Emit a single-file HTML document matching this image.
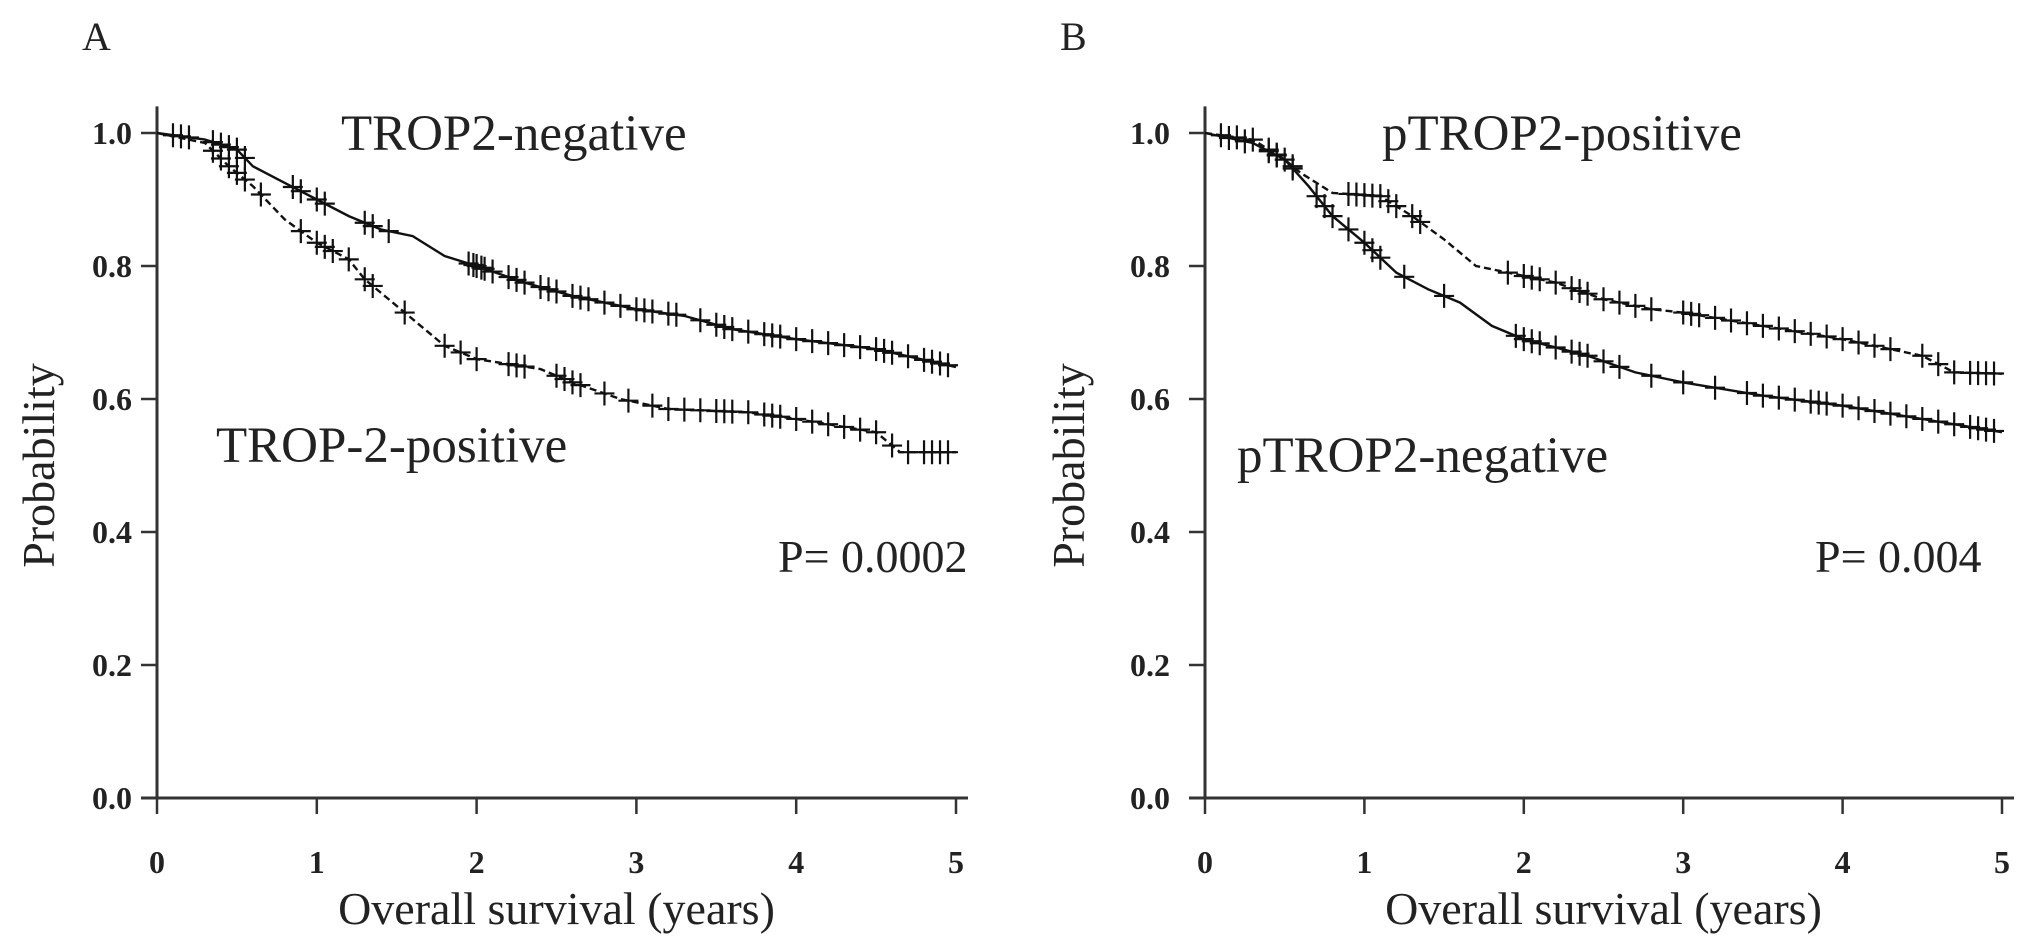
<!DOCTYPE html>
<html><head><meta charset="utf-8">
<style>
body{margin:0;background:#fff;}
svg{display:block;font-family:"Liberation Serif",serif;}
</style></head>
<body>
<svg id="chart" width="2031" height="947" viewBox="0 0 2031 947"></svg>
<script>
// Panel A data
const aNegT=[0,0.3,0.5,0.6,0.8,1,1.2,1.4,1.6,1.8,2,2.3,2.6,3,3.3,3.6,4,4.5,5];
const aNegS=[1,0.99,0.975,0.95,0.925,0.9,0.875,0.855,0.845,0.815,0.8,0.775,0.755,0.735,0.725,0.705,0.69,0.675,0.648];
const aPosT=[0,0.3,0.45,0.6,0.8,1,1.2,1.3,1.5,1.6,1.8,2,2.4,2.6,2.9,3.2,3.7,4,4.5,4.65,5];
const aPosS=[1,0.985,0.95,0.92,0.87,0.835,0.81,0.78,0.74,0.72,0.68,0.66,0.645,0.625,0.6,0.585,0.58,0.57,0.55,0.52,0.52];
const aNegCens=[0.1,0.15,0.2,0.35,0.4,0.45,0.5,0.55,0.85,0.9,1,1.05,1.3,1.35,1.45,1.95,1.98,2,2.03,2.05,2.1,2.2,2.25,2.3,2.4,2.45,2.5,2.6,2.65,2.7,2.8,2.9,3,3.05,3.1,3.2,3.25,3.4,3.5,3.55,3.6,3.7,3.8,3.85,3.9,4,4.1,4.2,4.3,4.4,4.5,4.55,4.6,4.7,4.8,4.85,4.9,4.95];
const aPosCens=[0.35,0.4,0.45,0.5,0.55,0.65,0.9,1,1.05,1.1,1.2,1.3,1.35,1.55,1.8,1.9,2,2.2,2.25,2.3,2.5,2.55,2.6,2.65,2.8,2.95,3.1,3.2,3.3,3.4,3.5,3.55,3.6,3.7,3.8,3.85,3.9,4,4.1,4.2,4.3,4.4,4.5,4.6,4.7,4.8,4.85,4.9,4.95];
// Panel B data
const bPosT=[0,0.3,0.5,0.6,0.8,1.1,1.3,1.5,1.7,1.9,2.2,2.5,2.8,3,3.5,4,4.5,4.7,5];
const bPosS=[1,0.99,0.96,0.94,0.91,0.905,0.875,0.84,0.8,0.79,0.775,0.75,0.735,0.73,0.71,0.69,0.665,0.64,0.638];
const bNegT=[0,0.3,0.5,0.65,0.8,1,1.2,1.4,1.6,1.8,2,2.4,2.7,3,3.5,4,4.5,5];
const bNegS=[1,0.985,0.96,0.92,0.875,0.835,0.79,0.765,0.745,0.71,0.69,0.665,0.64,0.625,0.605,0.59,0.57,0.55];
const bPosCens=[0.1,0.2,0.3,0.4,0.45,0.5,0.55,0.9,0.95,1,1.05,1.1,1.15,1.2,1.3,1.35,1.9,2,2.05,2.1,2.2,2.3,2.35,2.4,2.5,2.6,2.7,2.8,3,3.05,3.1,3.2,3.3,3.4,3.5,3.6,3.7,3.8,3.9,4,4.1,4.2,4.3,4.5,4.6,4.7,4.8,4.85,4.9,4.95];
const bNegCens=[0.15,0.25,0.4,0.45,0.55,0.7,0.75,0.8,0.9,1,1.05,1.1,1.25,1.5,1.95,2,2.05,2.1,2.2,2.3,2.35,2.4,2.5,2.6,2.8,3,3.2,3.4,3.5,3.6,3.7,3.8,3.85,3.9,4,4.1,4.2,4.3,4.4,4.5,4.6,4.7,4.8,4.85,4.9,4.95];
const yTicks=[0,0.2,0.4,0.6,0.8,1.0];
const xTicks=[0,1,2,3,4,5];

const NS='http://www.w3.org/2000/svg';
const svg=document.getElementById('chart');
function mk(tag,attrs,parent){const e=document.createElementNS(NS,tag);for(const k in attrs)e.setAttribute(k,attrs[k]);(parent||svg).appendChild(e);return e;}
function interp(T,S,t){for(let i=1;i<T.length;i++){if(t<=T[i]){const f=(t-T[i-1])/(T[i]-T[i-1]);return S[i-1]+f*(S[i]-S[i-1]);}}return S[S.length-1];}

function panel(p){
  const g=mk('g',{});
  
  
  const X=t=>p.x0+t*(p.x5-p.x0)/5;
  const Y=s=>p.y0-s*(p.y0-p.y1);
  const ax=mk('path',{d:`M${p.x0} ${Y(1.04)} L${p.x0} ${p.y0} M${p.x0-16} ${p.y0} L${X(5)+12} ${p.y0}`,stroke:'#333','stroke-width':3,fill:'none'},g);
  
  
  yTicks.forEach(v=>{
    mk('line',{x1:p.x0-16,x2:p.x0,y1:Y(v),y2:Y(v),stroke:'#333','stroke-width':2.5},g);
    const t=mk('text',{x:p.ylr,y:Y(v)+11,'text-anchor':'end','font-size':32,'font-weight':'bold',fill:'#222'},g);
    t.textContent=v.toFixed(1);
    
    
  });
  xTicks.forEach(v=>{
    mk('line',{x1:X(v),x2:X(v),y1:p.y0,y2:p.y0+16,stroke:'#333','stroke-width':2.5},g);
    const t=mk('text',{x:X(v),y:873,'text-anchor':'middle','font-size':32,'font-weight':'bold',fill:'#222'},g);
    t.textContent=v;
    
    
  });
  p.series.forEach(s=>{
    const d=s.T.map((t,i)=>(i?'L':'M')+X(t).toFixed(1)+' '+Y(s.S[i]).toFixed(1)).join(' ');
    const l=mk('path',{d:d,stroke:'#111','stroke-width':2.4,fill:'none','stroke-dasharray':s.dash?'7 4':'none'},g);
    
    
    s.C.forEach(c=>{
      const cx=X(c),cy=Y(interp(s.T,s.S,c));
      const m=mk('path',{d:`M${cx-10} ${cy} L${cx+10} ${cy} M${cx} ${cy-12} L${cx} ${cy+12}`,stroke:'#111','stroke-width':2.2},g);
      
      
    });
  });
  const yl=mk('text',{x:0,y:0,transform:`translate(${p.ylx},${(p.y0+p.y1)/2}) rotate(-90)`,'text-anchor':'middle','font-size':46,fill:'#222'},g);
  yl.textContent='Probability';
  
  
  const xl=mk('text',{x:(p.x0+p.x5)/2,y:924,'text-anchor':'middle','font-size':46,fill:'#222'},g);
  xl.textContent='Overall survival (years)';
  
  
  p.labels.forEach(L=>{
    const t=mk('text',{x:L.x,y:L.y,'font-size':L.fs||51,fill:'#222'},g);
    t.textContent=L.t;
    
    
  });
}

panel({name:'panel-a',x0:157,x5:956,y0:798,y1:133,ylx:54,ylr:132,
  series:[{name:'trop2-negative',T:aNegT,S:aNegS,C:aNegCens,dash:false},{name:'trop2-positive',T:aPosT,S:aPosS,C:aPosCens,dash:true}],
  labels:[{t:'A',x:82,y:50,fs:40,n:'panel-label-a'},{t:'TROP2-negative',x:341,y:150,n:'label-trop2-negative'},{t:'TROP-2-positive',x:216,y:462,n:'label-trop2-positive'},{t:'P= 0.0002',x:778,y:572,fs:46,n:'p-value-a'}]});
panel({name:'panel-b',x0:1205,x5:2002,y0:798,y1:133,ylx:1084,ylr:1170,
  series:[{name:'ptrop2-positive',T:bPosT,S:bPosS,C:bPosCens,dash:true},{name:'ptrop2-negative',T:bNegT,S:bNegS,C:bNegCens,dash:false}],
  labels:[{t:'B',x:1060,y:50,fs:40,n:'panel-label-b'},{t:'pTROP2-positive',x:1382,y:150,n:'label-ptrop2-positive'},{t:'pTROP2-negative',x:1237,y:472,n:'label-ptrop2-negative'},{t:'P= 0.004',x:1815,y:572,fs:46,n:'p-value-b'}]});
</script>
</body></html>
